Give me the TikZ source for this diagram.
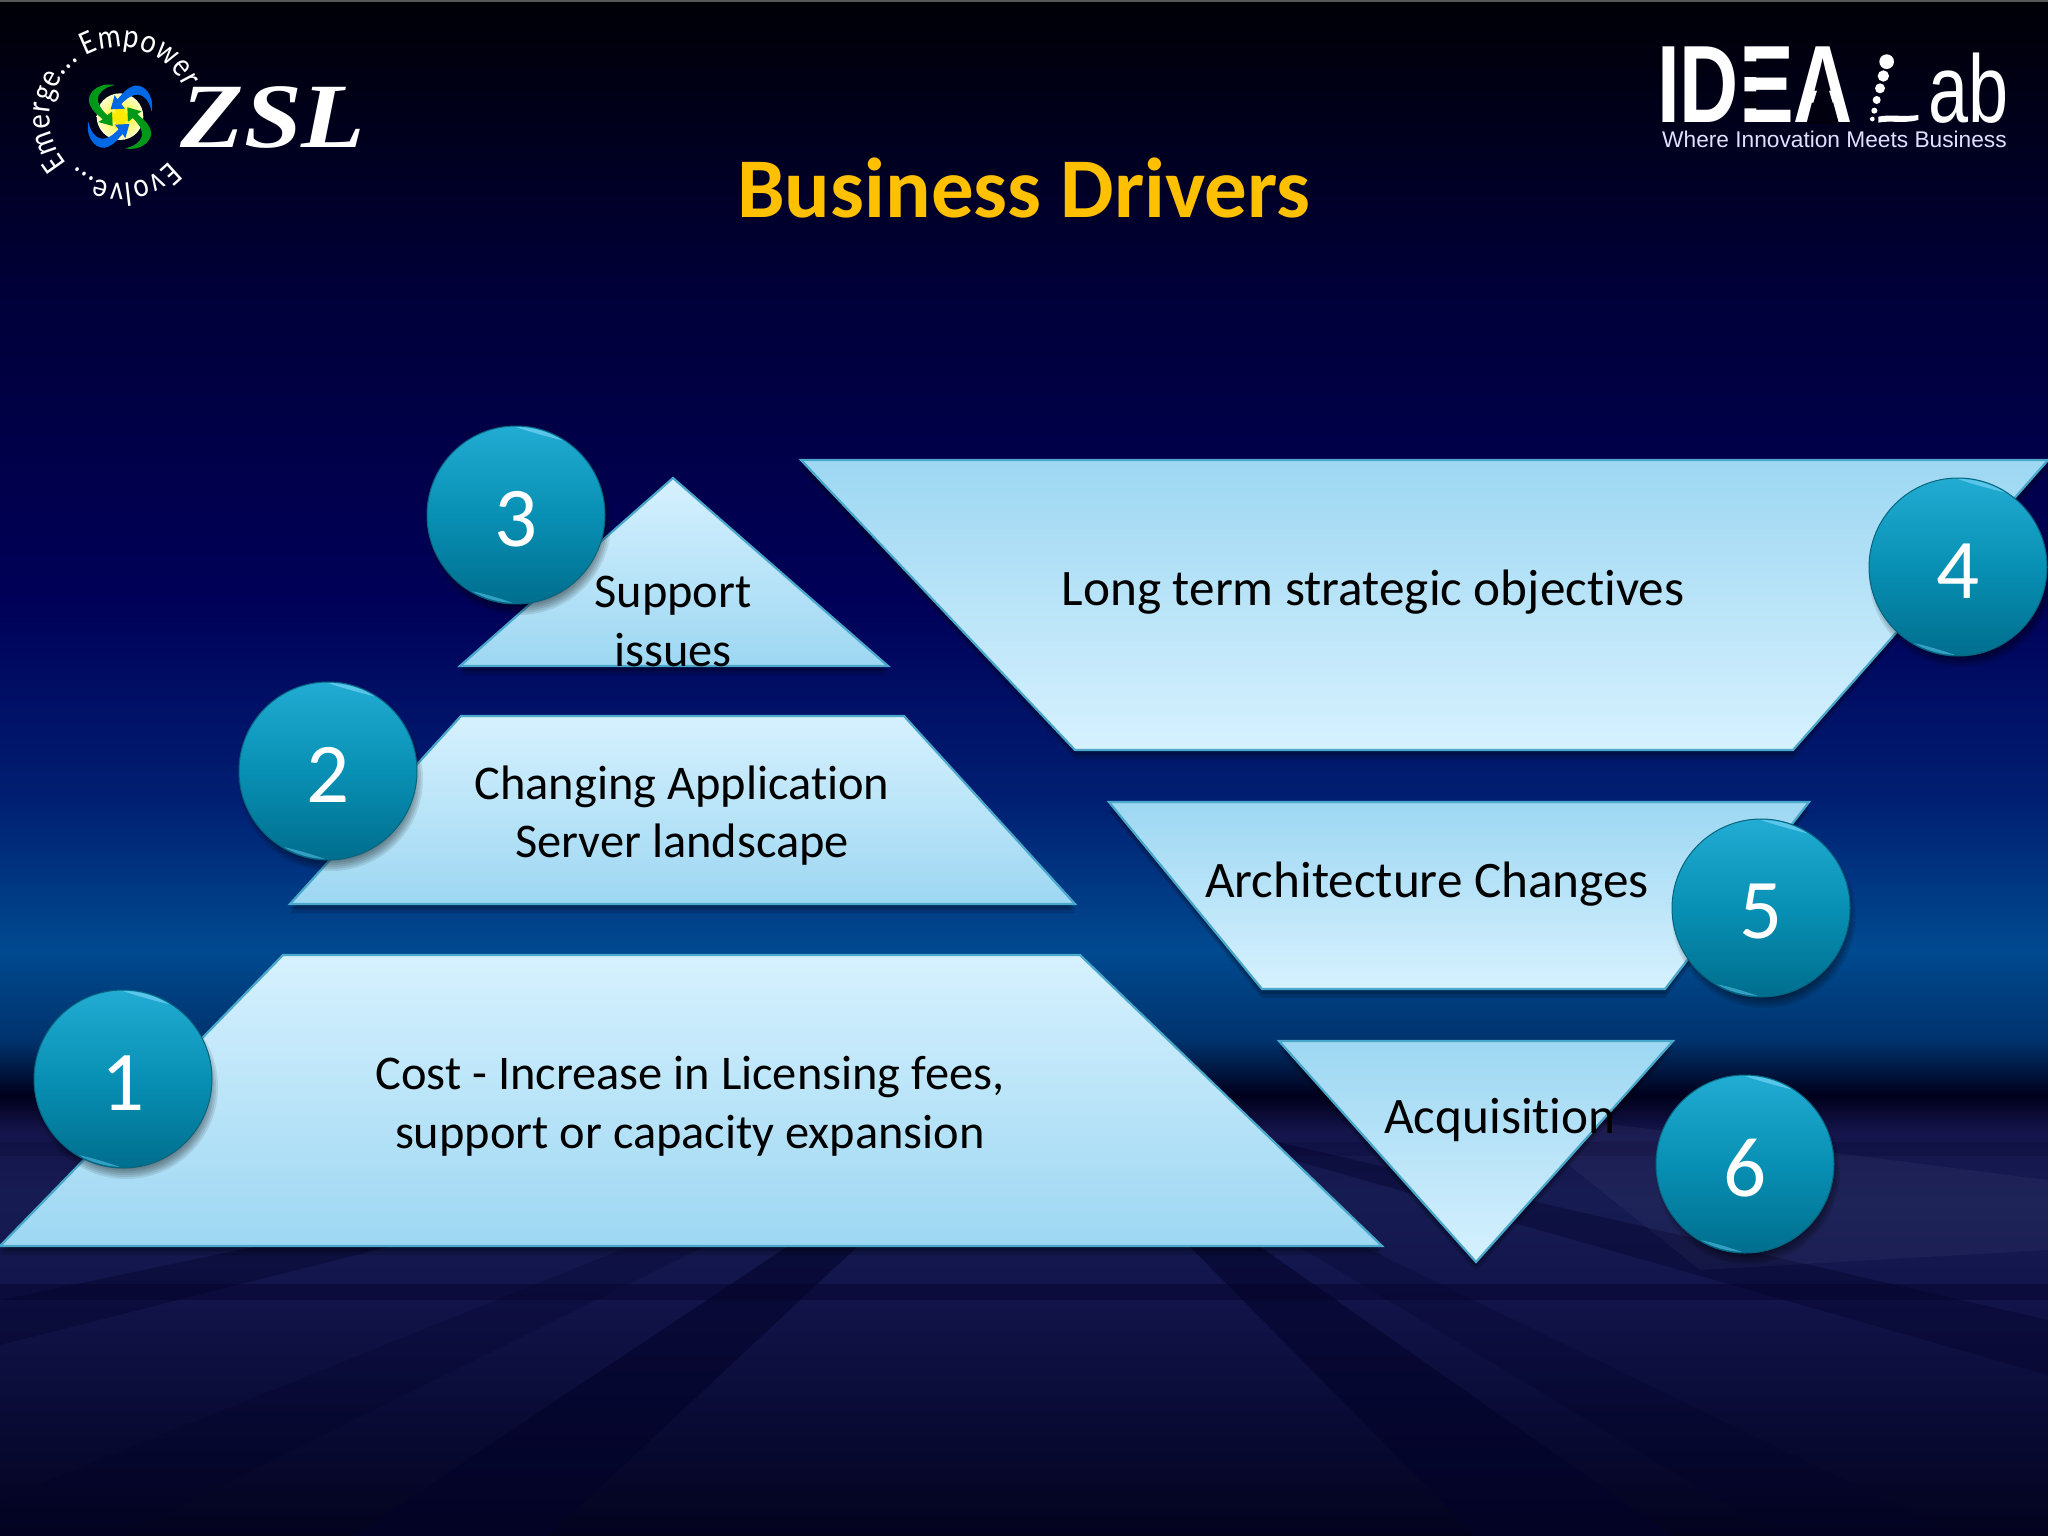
\documentclass[tikz,border=0pt]{standalone}
\usepackage{fontspec}
\setmainfont[Ligatures={NoCommon}]{Carlito}
\newfontfamily\lsans{Liberation Sans}
\newfontfamily\lserif{Liberation Serif}
\newfontfamily\ringfont[FakeStretch=.85]{Carlito}
\usetikzlibrary{decorations.text}
\definecolor{bc0}{HTML}{000006}
\definecolor{bc1}{HTML}{00003A}
\definecolor{bc2}{HTML}{000058}
\definecolor{bc3}{HTML}{001F72}
\definecolor{bc4}{HTML}{004A90}
\definecolor{bc5}{HTML}{00336E}
\definecolor{bc6}{HTML}{00001C}
\definecolor{bc7}{HTML}{14144A}
\definecolor{bc8}{HTML}{161C52}
\definecolor{bc9}{HTML}{12144A}
\definecolor{bc95}{HTML}{0A0C38}
\definecolor{bc10}{HTML}{03031E}
\definecolor{shapeedge}{HTML}{4AA8CA}
\definecolor{shapelight}{HTML}{D6F1FE}
\definecolor{shapedark}{HTML}{9DD7F2}
\definecolor{gold}{HTML}{FFC000}
\definecolor{floordark}{HTML}{03032A}
\definecolor{badgetop}{HTML}{22ACD3}
\definecolor{badgemid}{HTML}{0890B4}
\definecolor{badgelow}{HTML}{006E8E}
\definecolor{logobg}{HTML}{00000F}
\pgfdeclareverticalshading{slidebg}{100bp}{
 color(0bp)=(bc10); color(25bp)=(bc10); color(29.42bp)=(bc95); color(32.68bp)=(bc9); color(35.94bp)=(bc8);
 color(38.2bp)=(bc7); color(39.35bp)=(bc6); color(41.15bp)=(bc5); color(44.08bp)=(bc4);
 color(48.96bp)=(bc3); color(55.47bp)=(bc2); color(65.23bp)=(bc1); color(75bp)=(bc0); color(100bp)=(bc0)}
\tikzset{
 x=1pt,y=-1pt,
 bodytext/.style={font=\fontsize{51.2}{51.2}\selectfont,text=black,anchor=base,inner sep=0pt},
 lefttext/.style={font=\fontsize{48.4}{48.4}\selectfont,text=black,anchor=base,inner sep=0pt},
 numtext/.style={font=\fontsize{85}{85}\selectfont,text=white,inner sep=0pt},
 uppiece/.style={draw=shapeedge,line width=2.2pt,line join=miter,top color=shapelight,bottom color=shapedark},
 downpiece/.style={draw=shapeedge,line width=2.2pt,line join=miter,top color=shapedark,bottom color=shapelight},
 band/.style={fill=floordark,fill opacity=.6},
 sideband/.style={fill=floordark,fill opacity=.4},
 faintband/.style={fill=floordark,fill opacity=.25},
}
\newcommand{\pieceshadow}[1]{%
 \fill[black,opacity=.16] [shift={(0,9)}] #1;
 \fill[black,opacity=.20] [shift={(0,5)}] #1;
}
\newcommand{\badge}[3]{%
 \begin{scope}[shift={(#2,#3)},x=1pt,y=1pt]
  \foreach \rr in {92,90,88,86,84,82}{\fill[black,opacity=.09] (3,-8) circle[radius=\rr];}
  \node[circle,minimum size=178pt,draw=badgemid!70!black,line width=1pt,top color=badgetop,bottom color=badgelow,middle color=badgemid] (#1) at (0,0) {};
  \fill[white!45!cyan,opacity=.7] (90:88) arc[start angle=90,end angle=58,radius=88] .. controls (68:84.5) and (82:84.5) .. cycle;
  \fill[white!40!cyan,opacity=.5] (268:88) arc[start angle=268,end angle=240,radius=88] .. controls (247:85) and (260:85) .. cycle;
  \node[numtext] (#1t) at (0,-4) {#1};
 \end{scope}}
\newcommand{\swirlarm}[2]{%
 \fill[#2,rotate around={#1:(360,350)}] (345,255) .. controls (290,245) and (255,285) .. (270,315)
   .. controls (278,335) and (295,345) .. (308,358) -- (295,366) -- (338,378) -- (336,335) -- (322,346)
   .. controls (300,325) and (285,300) .. (300,280) .. controls (310,265) and (330,258) .. (345,255) -- cycle;}
\begin{document}
\begin{tikzpicture}
\useasboundingbox (0,0) rectangle (2048,1536);
% background
\path[shading=slidebg] (0,0) rectangle (2048,1536);
\fill[black!65!white] (0,0) rectangle (2048,2);
% floor bands
\coordinate (vp) at (1030,1085);
\fill[faintband] (vp) -- (0,1500) -- (0,1536) -- (120,1536) -- cycle;
\fill[faintband] (vp) -- (1780,1536) -- (1960,1536) -- cycle;
\fill[band] (vp) -- (353,1536) -- (548,1536) -- cycle;
\fill[band] (vp) -- (1476,1536) -- (1672,1536) -- cycle;
\fill[sideband] (vp) -- (0,1300) -- (0,1345) -- cycle;
\fill[sideband] (vp) -- (2048,1320) -- (2048,1375) -- cycle;
\fill[floordark,fill opacity=.45] (0,1284) rectangle (2048,1300);
\fill[floordark,fill opacity=.2] (0,1142) rectangle (2048,1156);
\fill[white,fill opacity=.035] (1500,1110) -- (2048,1180) -- (2048,1250) -- (1700,1270) -- cycle;
% ZSL logo
\begin{scope}[x=.33333pt,y=-.33333pt]
 \shade[inner color=yellow!90!orange,outer color=yellow!20!white] (360,350) circle[radius=70];
 \fill[yellow!92!orange] (345,322) -- (378,322) -- (372,338) -- (395,340) -- (395,365) -- (375,362) -- (378,385) -- (345,385) -- (348,365) -- (325,365) -- (325,338) -- (348,340) -- cycle;
 \swirlarm{0}{green!55!black!90!cyan}
 \swirlarm{180}{green!55!black!90!cyan}
 \swirlarm{90}{blue!55!cyan!90!black}
 \swirlarm{270}{blue!55!cyan!90!black}
\end{scope}
\node[inner sep=0pt,anchor=base,text=white,xscale=1.13] (zsl) at (273,148) {\fontsize{92}{92}\lserif\bfseries\itshape ZSL};
\begin{scope}[shift={(120,117)},x=1pt,y=1pt]
 \coordinate (ringa) at (221:70);
 \coordinate (ringb) at (-42:66);
 \path[decorate,decoration={text along path,text align={fit to path},text color=white,
   text={|\fontsize{34}{34}\ringfont|Emerge... Empower}}]
   (ringa) arc[start angle=221,end angle=24,radius=70];
 \path[decorate,decoration={text along path,text align={fit to path},text color=white,
   text={|\fontsize{34}{34}\ringfont|Evolve...}}]
   (ringb) arc[start angle=-42,end angle=-132,radius=66];
\end{scope}
% IDEA Lab logo
\node[inner sep=0pt,anchor=base west,text=white,xscale=.745] (idea) at (1657,123) {\fontsize{110}{110}\lsans\bfseries IDEA};
\fill[logobg] (1743.5,61.5) rectangle (1758,77) (1743.5,91.5) rectangle (1758,108.5);
\fill[logobg] (1823,71) -- (1807,124) -- (1839,124) -- cycle;
\node[inner sep=0pt,anchor=base east,text=white,xscale=.75] (lab) at (2009,123) {\fontsize{96}{96}\lsans ab};
\begin{scope}[shift={(1620,20)},x=.33333pt,y=-.33333pt]
 \fill[white] (800,125) circle[radius=22] (790,168) circle[radius=17] (780,205) circle[radius=15] (770,240) circle[radius=12] (763,272) circle[radius=9] (757,297) circle[radius=7];
 \fill[white] (775,290) .. controls (810,282) and (850,292) .. (895,285) -- (895,300) .. controls (850,312) and (810,300) .. (775,308) -- cycle;
\end{scope}
\node[inner sep=0pt,anchor=base west,text=white!88!blue] (tag) at (1662,148) {\fontsize{22.7}{22.7}\lsans Where Innovation Meets Business};
% title
\node[inner sep=0pt,anchor=base,text=gold] (title) at (1024,217) {\fontsize{85}{85}\selectfont\bfseries Business Drivers};
% pieces
\pieceshadow{(461,716) -- (904,716) -- (1075,904) -- (290,904) -- cycle}
\pieceshadow{(673,478) -- (888,666) -- (460,666) -- cycle}
\pieceshadow{(283,955) -- (1080,955) -- (1382,1246) -- (0,1246) -- cycle}
\pieceshadow{(801,460) -- (2048,460) -- (1793,750) -- (1075,750) -- cycle}
\pieceshadow{(1109,802) -- (1809,802) -- (1665,989) -- (1262,989) -- cycle}
\pieceshadow{(1279,1041) -- (1673,1041) -- (1476,1262) -- cycle}
\path[uppiece] (673,478) -- (888,666) -- (460,666) -- cycle;
\path[uppiece] (461,716) -- (904,716) -- (1075,904) -- (290,904) -- cycle;
\path[uppiece] (283,955) -- (1080,955) -- (1382,1246) -- (0,1246) -- cycle;
\path[downpiece] (801,460) -- (2048,460) -- (1793,750) -- (1075,750) -- cycle;
\path[downpiece] (1109,802) -- (1809,802) -- (1665,989) -- (1262,989) -- cycle;
\path[downpiece] (1279,1041) -- (1673,1041) -- (1476,1262) -- cycle;
% labels
\node[lefttext] (s1) at (673,607) {Support};
\node[lefttext] (s2) at (673,666) {issues};
\node[lefttext] (c1) at (682,799) {Changing Application};
\node[lefttext] (c2) at (682,857) {Server landscape};
\node[lefttext] (k1) at (690,1089) {Cost - Increase in Licensing fees,};
\node[lefttext] (k2) at (690,1148) {support or capacity expansion};
\node[bodytext] (l1) at (1373,605) {Long term strategic objectives};
\node[bodytext] (a1) at (1427,897) {Architecture Changes};
\node[bodytext] (q1) at (1500,1133) {Acquisition};
% badges
\badge{1}{123}{1079}
\badge{2}{328}{771}
\badge{3}{516}{515}
\badge{4}{1958}{567}
\badge{5}{1761}{908}
\badge{6}{1745}{1164}
\end{tikzpicture}
\end{document}
